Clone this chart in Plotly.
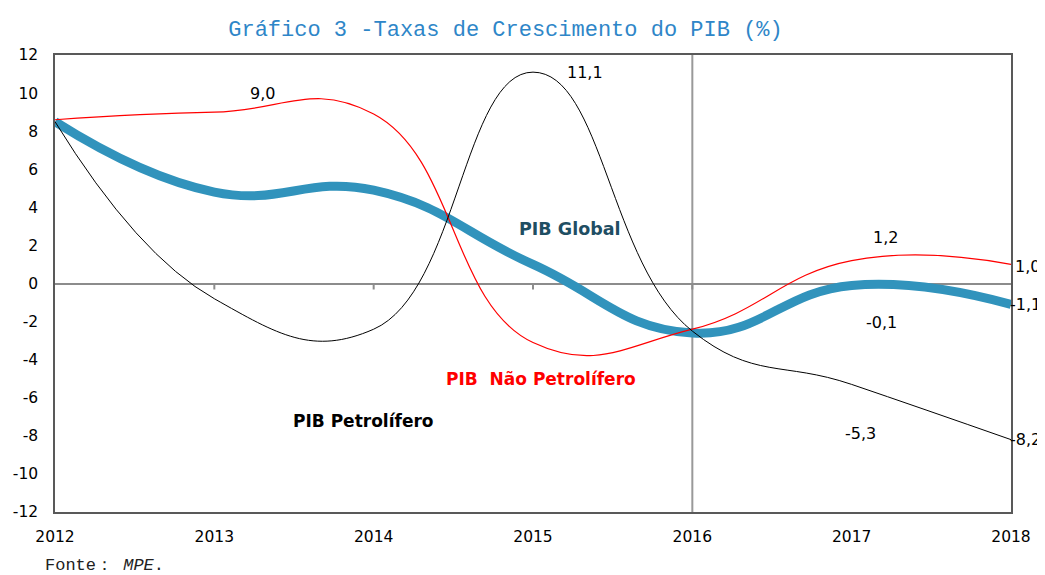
import plotly.graph_objects as go

years = [2012, 2013, 2014, 2015, 2016, 2017, 2018]
pib_global = [8.5, 4.8, 4.9, 1.0, -2.6, -0.1, -1.1]
pib_nao_petrolifero = [8.6, 9.0, 8.9, -3.1, -2.4, 1.2, 1.0]
pib_petrolifero = [8.5, -0.8, -2.4, 11.1, -2.5, -5.3, -8.2]
y_ticks = [-12, -10, -8, -6, -4, -2, 0, 2, 4, 6, 8, 10, 12]

title_text = "Gráfico 3 -Taxas de Crescimento do PIB (%)"

# page body adds an 8px margin; compensate so the picture lines up with the window
W, H, OFF = 1045, 575, 8
FW, FH = W - OFF, H - OFF
ML, MR, MT, MB = 47, 34, 47, 63
plot_w = FW - ML - MR
plot_h = FH - MT - MB

fig = go.Figure()
fig.add_trace(go.Scatter(x=years, y=pib_global, mode="lines",
                         line=dict(color="#3193BC", width=9, shape="spline", smoothing=1.3),
                         name="PIB Global", hoverinfo="skip"))
fig.add_trace(go.Scatter(x=years, y=pib_nao_petrolifero, mode="lines",
                         line=dict(color="#FF0000", width=1.2, shape="spline", smoothing=1.3),
                         name="PIB Não Petrolífero", hoverinfo="skip"))
fig.add_trace(go.Scatter(x=years, y=pib_petrolifero, mode="lines",
                         line=dict(color="#000000", width=1, shape="spline", smoothing=1.3),
                         name="PIB Petrolífero", hoverinfo="skip"))

# small tick marks on the zero line at each year
for yr in years[1:-1]:
    fig.add_shape(type="line", xref="x", yref="y", x0=yr, x1=yr,
                  ysizemode="pixel", yanchor=0, y0=0, y1=-6,
                  line=dict(color="#8C8C8C", width=2), layer="below")
# vertical line at 2016
fig.add_shape(type="line", xref="x", yref="paper", x0=years[4], x1=years[4], y0=0, y1=1,
              line=dict(color="#999999", width=2), layer="below")

lab_font = dict(family="DejaVu Sans", size=16, color="#000000")

def lab(x, y, text, xs, ys, xanchor="center"):
    fig.add_annotation(x=x, y=y, xref="x", yref="y", text=text, showarrow=False,
                       xshift=xs, yshift=ys, xanchor=xanchor, yanchor="middle", font=lab_font)

lab(years[1], pib_nao_petrolifero[1], "9,0", 48, 19)
lab(years[3], pib_petrolifero[3], "11,1", 52, 0)
lab(years[5], pib_nao_petrolifero[5], "1,2", 34, 23)
lab(years[5], pib_global[5], "-0,1", 30, -37)
lab(years[5], pib_petrolifero[5], "-5,3", 9, -49)
lab(years[6], pib_nao_petrolifero[6], "1,0", 2, -2, "left")
lab(years[6], pib_global[6], "-1,1", -3, 0, "left")
lab(years[6], pib_petrolifero[6], "-8,2", -3, 0, "left")

fig.add_annotation(x=2015.23, y=2.86, xref="x", yref="y", text="<b>PIB Global</b>",
                   showarrow=False, font=dict(family="DejaVu Sans", size=17.5, color="#1F4E63"))
fig.add_annotation(x=2015.05, y=-5.0, xref="x", yref="y", text="<b>PIB  Não Petrolífero</b>",
                   showarrow=False, font=dict(family="DejaVu Sans", size=17, color="#FF0000"))
fig.add_annotation(x=2013.93, y=-7.2, xref="x", yref="y", text="<b>PIB Petrolífero</b>",
                   showarrow=False, font=dict(family="DejaVu Sans", size=17, color="#000000"))

fig.add_annotation(x=-12 / plot_w, y=-(565 - 512) / plot_h, xref="paper", yref="paper",
                   text="Fonte： <i>MPE</i>.", showarrow=False, xanchor="left", yanchor="middle",
                   font=dict(family="Liberation Mono", size=17, color="#222222"))

fig.update_layout(
    width=FW, height=FH,
    margin=dict(l=ML, r=MR, t=MT, b=MB, pad=0, autoexpand=False),
    paper_bgcolor="white", plot_bgcolor="white",
    showlegend=False,
    title=dict(text=title_text, x=(505.5 - OFF) / FW, xanchor="center", y=1 - 20 / FH,
               yanchor="middle", yref="container", automargin=False,
               font=dict(family="Liberation Mono", size=22, color="#2E86C8")),
    xaxis=dict(range=[years[0], years[-1]], tickmode="array", tickvals=years,
               ticktext=[str(y) for y in years], showgrid=False, zeroline=False,
               showline=True, linecolor="#595959", linewidth=1.5, mirror=True,
               ticks="", ticklabelstandoff=10, automargin=False,
               tickfont=dict(family="DejaVu Sans", size=15.5, color="#000000")),
    yaxis=dict(range=[-12, 12], tickmode="array", tickvals=y_ticks,
               ticktext=[str(v) for v in y_ticks], showgrid=False,
               zeroline=True, zerolinecolor="#8C8C8C", zerolinewidth=2,
               showline=True, linecolor="#595959", linewidth=1.5, mirror=True,
               ticks="", ticklabelstandoff=12, automargin=False,
               tickfont=dict(family="DejaVu Sans", size=15.5, color="#000000")),
)

fig.write_html("out.html")
